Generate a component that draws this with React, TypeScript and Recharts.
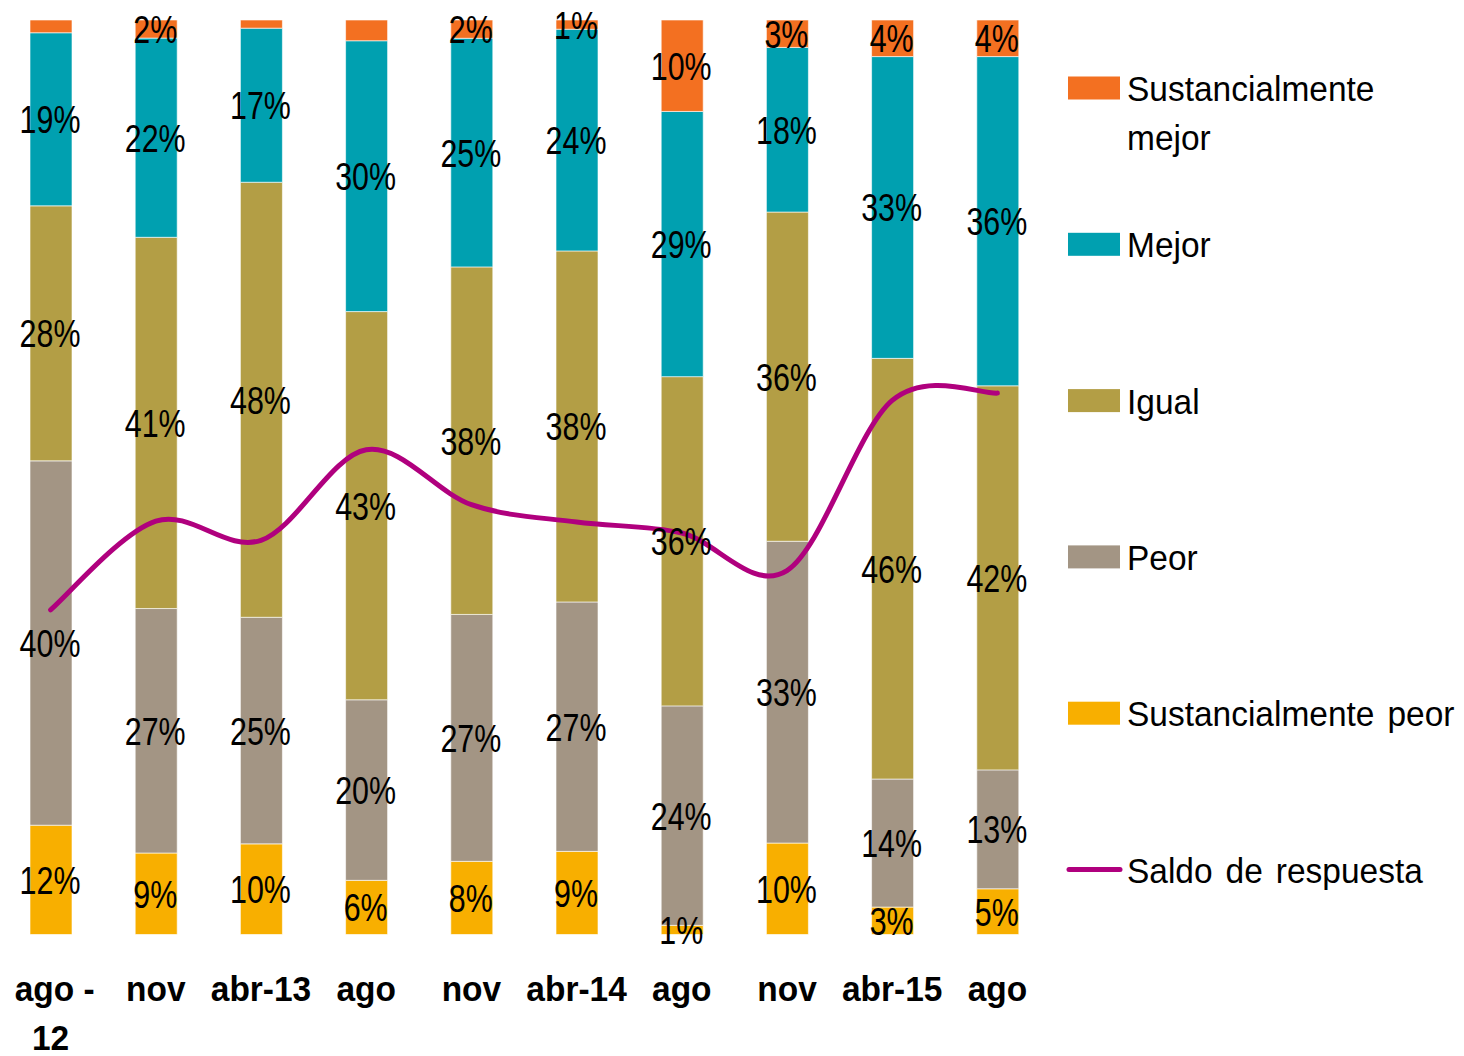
import React from "react";
import { ComposedChart, Bar, Line, XAxis, YAxis, LabelList } from "recharts";

const categories = ["ago - 12", "nov", "abr-13", "ago", "nov", "abr-14", "ago", "nov", "abr-15", "ago"];
const sustPeor = [12, 9, 10, 6, 8, 9, 1, 10, 3, 5];
const peor = [40, 27, 25, 20, 27, 27, 24, 33, 14, 13];
const igual = [28, 41, 48, 43, 38, 38, 36, 36, 46, 42];
const mejor = [19, 22, 17, 30, 25, 24, 29, 18, 33, 36];
const sustMejor = [1.4, 2, 0.9, 2.3, 2, 1, 10, 3, 4, 4];
const sustMejorLabelShown = [false, true, false, false, true, true, true, true, true, true];
const saldo = [-14.5, -4.8, -6.9, 3.0, -3.0, -4.9, -6.1, -10.2, 8.4, 9.2];

const seriesNames = {
  sm: "Sustancialmente mejor",
  m: "Mejor",
  i: "Igual",
  p: "Peor",
  sp: "Sustancialmente peor",
  s: "Saldo de respuesta",
};

const COLORS = {
  sm: "#F37021",
  m: "#00A0B0",
  i: "#B39E45",
  p: "#A39584",
  sp: "#F8AF00",
  s: "#B0007E",
};

// 100% stacked: each column's shares normalised to its total
const data = categories.map((c, k) => {
  const total = sustPeor[k] + peor[k] + igual[k] + mejor[k] + sustMejor[k];
  return {
    cat: c,
    sp: (sustPeor[k] / total) * 100,
    p: (peor[k] / total) * 100,
    i: (igual[k] / total) * 100,
    m: (mejor[k] / total) * 100,
    sm: (sustMejor[k] / total) * 100,
    s: saldo[k],
  };
});

const FONT = "'Liberation Sans', Arial, sans-serif";

// Catmull-Rom style smoothing (similar to spreadsheet smoothed lines)
const smoothCurve = (context: any) => {
  let pts: number[][] = [];
  return {
    areaStart() {},
    areaEnd() {},
    lineStart() {
      pts = [];
    },
    lineEnd() {
      const n = pts.length;
      if (!n) return;
      context.moveTo(pts[0][0], pts[0][1]);
      for (let k = 0; k < n - 1; k++) {
        const p0 = pts[k - 1] || pts[k];
        const p1 = pts[k];
        const p2 = pts[k + 1];
        const p3 = pts[k + 2] || pts[k + 1];
        context.bezierCurveTo(
          p1[0] + (p2[0] - p0[0]) / 6,
          p1[1] + (p2[1] - p0[1]) / 6,
          p2[0] - (p3[0] - p1[0]) / 6,
          p2[1] - (p3[1] - p1[1]) / 6,
          p2[0],
          p2[1]
        );
      }
    },
    point(x: number, y: number) {
      pts.push([+x, +y]);
    },
  };
};

const makeLabel = (arr: number[], shown?: boolean[]) => (props: any) => {
  const idx = props.index;
  if (idx === undefined || idx === null) return null;
  if (shown && !shown[idx]) return null;
  const v = arr[idx];
  const x = Number(props.x);
  const y = Number(props.y);
  const w = Number(props.width);
  const h = Number(props.height);
  const cx = x + w / 2;
  const cy = y + h / 2;
  return (
    <text
      transform={`translate(${cx - 1},${cy + 14}) scale(0.8,1)`}
      x={0}
      y={0}
      textAnchor="middle"
      fontFamily={FONT}
      fontSize={38}
      fill="#000"
    >
      {`${Math.round(v)}%`}
    </text>
  );
};

const XTick = (props: any) => {
  const { x, y, payload } = props;
  const label: string = payload.value;
  const lines = label.includes(" - ") ? [label.split(" - ")[0] + " -", label.split(" - ")[1]] : [label];
  return (
    <g>
      {lines.map((ln, k) => (
        <text
          key={k}
          transform={`translate(${x + (k === 0 && lines.length > 1 ? 4 : 0)},${y + 66 + k * 49}) scale(0.93,1)`}
          x={0}
          y={0}
          textAnchor="middle"
          fontFamily={FONT}
          fontWeight="bold"
          fontSize={36}
          fill="#000"
        >
          {ln}
        </text>
      ))}
    </g>
  );
};

const legendItems = [
  { key: "sm", lines: ["Sustancialmente", "mejor"], type: "rect" },
  { key: "m", lines: [seriesNames.m], type: "rect" },
  { key: "i", lines: [seriesNames.i], type: "rect" },
  { key: "p", lines: [seriesNames.p], type: "rect" },
  { key: "sp", lines: [seriesNames.sp], type: "rect" },
  { key: "s", lines: [seriesNames.s], type: "line" },
];

const LegendBlock = () => (
  <svg
    width={400}
    height={1000}
    style={{ position: "absolute", left: 1064, top: 0, display: "block" }}
  >
    {legendItems.map((it, k) => {
      const cy = 88 + 156.3 * k;
      return (
        <g key={it.key}>
          {it.type === "rect" ? (
            <rect x={4} y={cy - 11.5} width={52} height={23} fill={(COLORS as any)[it.key]} />
          ) : (
            <line x1={5} y1={cy} x2={56} y2={cy} stroke={(COLORS as any)[it.key]} strokeWidth={5} strokeLinecap="round" />
          )}
          {it.lines.map((ln, j) => (
            <text
              key={j}
              transform={`translate(63,${cy + 13 + j * 49}) scale(0.93,1)`}
              x={0}
              y={0}
              fontFamily={FONT}
              fontSize={36}
              wordSpacing={4}
              fill="#000"
            >
              {ln}
            </text>
          ))}
        </g>
      );
    })}
  </svg>
);

export default function App() {
  return (
    <div style={{ position: "absolute", left: 0, top: 0, width: 1464, height: 1056, background: "#fff", overflow: "hidden" }}>
      <div style={{ position: "absolute", left: -2, top: 0 }}>
        <ComposedChart
          width={1466}
          height={1056}
          data={data}
          margin={{ top: 20, right: 414, bottom: 0, left: 0 }}
          barSize={42}
        >
          <XAxis
            dataKey="cat"
            axisLine={false}
            tickLine={false}
            tickSize={0}
            tickMargin={0}
            interval={0}
            tick={<XTick />}
            height={121.5}
          />
          <YAxis yAxisId="left" hide domain={[0, 100]} allowDataOverflow />
          <YAxis yAxisId="right" hide domain={[-50, 50]} orientation="right" allowDataOverflow />
          <Bar yAxisId="left" dataKey="sp" name={seriesNames.sp} stackId="a" fill={COLORS.sp} stroke="rgba(255,255,255,0.6)" strokeWidth={1} isAnimationActive={false}>
            <LabelList dataKey="sp" content={makeLabel(sustPeor)} />
          </Bar>
          <Bar yAxisId="left" dataKey="p" name={seriesNames.p} stackId="a" fill={COLORS.p} stroke="rgba(255,255,255,0.6)" strokeWidth={1} isAnimationActive={false}>
            <LabelList dataKey="p" content={makeLabel(peor)} />
          </Bar>
          <Bar yAxisId="left" dataKey="i" name={seriesNames.i} stackId="a" fill={COLORS.i} stroke="rgba(255,255,255,0.6)" strokeWidth={1} isAnimationActive={false}>
            <LabelList dataKey="i" content={makeLabel(igual)} />
          </Bar>
          <Bar yAxisId="left" dataKey="m" name={seriesNames.m} stackId="a" fill={COLORS.m} stroke="rgba(255,255,255,0.6)" strokeWidth={1} isAnimationActive={false}>
            <LabelList dataKey="m" content={makeLabel(mejor)} />
          </Bar>
          <Bar yAxisId="left" dataKey="sm" name={seriesNames.sm} stackId="a" fill={COLORS.sm} stroke="rgba(255,255,255,0.6)" strokeWidth={1} isAnimationActive={false}>
            <LabelList dataKey="sm" content={makeLabel(sustMejor, sustMejorLabelShown)} />
          </Bar>
          <Line
            yAxisId="right"
            dataKey="s"
            name={seriesNames.s}
            type={smoothCurve as any}
            stroke={COLORS.s}
            strokeWidth={5}
            strokeLinecap="round"
            dot={false}
            activeDot={false}
            isAnimationActive={false}
          />
        </ComposedChart>
      </div>
      <LegendBlock />
    </div>
  );
}
